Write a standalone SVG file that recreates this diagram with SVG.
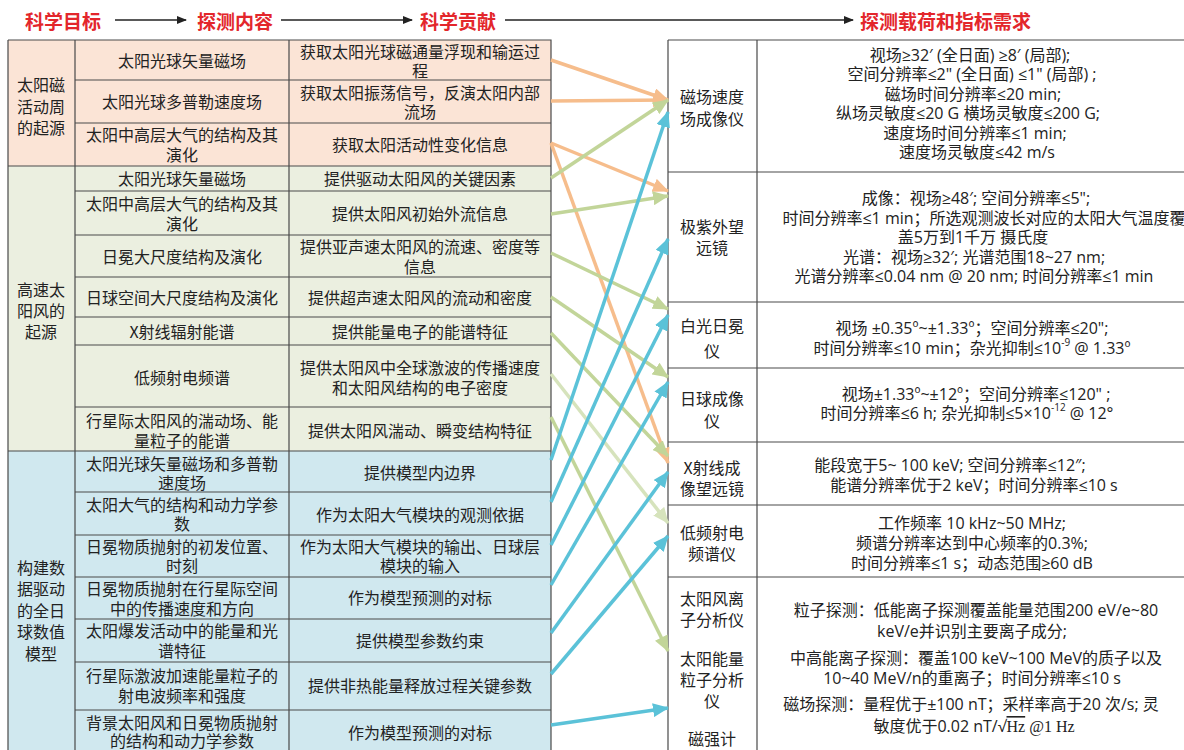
<svg xmlns="http://www.w3.org/2000/svg" width="1184" height="750" viewBox="0 0 1184 750">
<style>
.t{font-family:"Noto Sans CJK SC","Noto Sans",sans-serif;font-size:16px;fill:#222;text-anchor:middle;dominant-baseline:central}
.r{font-family:"Open Sans","Noto Sans CJK SC",sans-serif;font-size:16px;fill:#222;text-anchor:middle;dominant-baseline:central}
.h{font-family:"Noto Sans CJK SC",sans-serif;font-size:19px;font-weight:bold;fill:#E3262B;dominant-baseline:central}
.g{stroke:#4a4a4a;stroke-width:1.2;fill:none}
.sup{font-size:10px}
.co{stroke:#F6BD8C;stroke-width:3.5;fill:none}
.cg{stroke:#C2D599;stroke-width:3.5;fill:none}
.cg2{stroke:#D6E3BC;stroke-width:3.5;fill:none}
.cb{stroke:#5BC2D8;stroke-width:3.5;fill:none}
</style>
<defs>
<marker id="ah" markerWidth="10" markerHeight="8" refX="9" refY="4" orient="auto" markerUnits="userSpaceOnUse"><path d="M0,0 L10,4 L0,8 z" fill="#222"/></marker>
<marker id="ao" markerWidth="16" markerHeight="14" refX="15" refY="7" orient="auto" markerUnits="userSpaceOnUse"><path d="M0,0 L16,7 L0,14 z" fill="#F6BD8C"/></marker>
<marker id="ag" markerWidth="16" markerHeight="14" refX="15" refY="7" orient="auto" markerUnits="userSpaceOnUse"><path d="M0,0 L16,7 L0,14 z" fill="#C2D599"/></marker>
<marker id="ag2" markerWidth="16" markerHeight="14" refX="15" refY="7" orient="auto" markerUnits="userSpaceOnUse"><path d="M0,0 L16,7 L0,14 z" fill="#D6E3BC"/></marker>
<marker id="ab" markerWidth="16" markerHeight="14" refX="15" refY="7" orient="auto" markerUnits="userSpaceOnUse"><path d="M0,0 L16,7 L0,14 z" fill="#5BC2D8"/></marker>
</defs>
<rect width="1184" height="750" fill="#fff"/>

<g id="header">
<text class="h" x="25" y="20">科学目标</text>
<line x1="115" y1="20" x2="186" y2="20" stroke="#222" stroke-width="1.3" marker-end="url(#ah)"/>
<text class="h" x="197" y="20">探测内容</text>
<line x1="281" y1="20" x2="412" y2="20" stroke="#222" stroke-width="1.3" marker-end="url(#ah)"/>
<text class="h" x="420" y="20">科学贡献</text>
<line x1="505" y1="20" x2="853" y2="20" stroke="#222" stroke-width="1.3" marker-end="url(#ah)"/>
<text class="h" x="860" y="20">探测载荷和指标需求</text>
</g>

<g id="left-table">
<rect x="8" y="40" width="543" height="126" fill="#FBE4D6"/>
<rect x="8" y="166" width="543" height="285" fill="#EBEFE0"/>
<rect x="8" y="451" width="543" height="305" fill="#D0E8EF"/>
<path class="g" d="M8,40 H551 V756 M8,40 V756 M75,40 V756 M289,40 V756"/>
<path class="g" d="M8,166 H551 M8,451 H551"/>
<path class="g" d="M75,80 H551 M75,123 H551 M75,191 H551 M75,235 H551 M75,277 H551 M75,317 H551 M75,345 H551 M75,407 H551 M75,492 H551 M75,535 H551 M75,577 H551 M75,619 H551 M75,662 H551 M75,710 H551"/>
</g>

<g id="goal-1">
<text class="t" x="41" y="84">太阳磁</text><text class="t" x="41" y="106">活动周</text><text class="t" x="41" y="127">的起源</text>
<text class="t" x="182" y="60">太阳光球矢量磁场</text>
<text class="t" x="420" y="51">获取太阳光球磁通量浮现和输运过</text><text class="t" x="420" y="70">程</text>
<text class="t" x="182" y="101">太阳光球多普勒速度场</text>
<text class="t" x="420" y="92">获取太阳振荡信号，反演太阳内部</text><text class="t" x="420" y="111">流场</text>
<text class="t" x="182" y="134">太阳中高层大气的结构及其</text><text class="t" x="182" y="154">演化</text>
<text class="t" x="420" y="144">获取太阳活动性变化信息</text>
</g>

<g id="goal-2">
<text class="t" x="41" y="289">高速太</text><text class="t" x="41" y="310">阳风的</text><text class="t" x="41" y="331">起源</text>
<text class="t" x="182" y="178">太阳光球矢量磁场</text><text class="t" x="420" y="178">提供驱动太阳风的关键因素</text>
<text class="t" x="182" y="203">太阳中高层大气的结构及其</text><text class="t" x="182" y="223">演化</text>
<text class="t" x="420" y="213">提供太阳风初始外流信息</text>
<text class="t" x="182" y="256">日冕大尺度结构及演化</text>
<text class="t" x="420" y="246">提供亚声速太阳风的流速、密度等</text><text class="t" x="420" y="266">信息</text>
<text class="t" x="182" y="297">日球空间大尺度结构及演化</text><text class="t" x="420" y="297">提供超声速太阳风的流动和密度</text>
<text class="t" x="182" y="331">X射线辐射能谱</text><text class="t" x="420" y="331">提供能量电子的能谱特征</text>
<text class="t" x="182" y="377">低频射电频谱</text>
<text class="t" x="420" y="367">提供太阳风中全球激波的传播速度</text><text class="t" x="420" y="387">和太阳风结构的电子密度</text>
<text class="t" x="182" y="420">行星际太阳风的湍动场、能</text><text class="t" x="182" y="440">量粒子的能谱</text>
<text class="t" x="420" y="430">提供太阳风湍动、瞬变结构特征</text>
</g>

<g id="goal-3">
<text class="t" x="41" y="567">构建数</text><text class="t" x="41" y="588">据驱动</text><text class="t" x="41" y="610">的全日</text><text class="t" x="41" y="631">球数值</text><text class="t" x="41" y="653">模型</text>
<text class="t" x="182" y="463">太阳光球矢量磁场和多普勒</text><text class="t" x="182" y="482">速度场</text>
<text class="t" x="420" y="472">提供模型内边界</text>
<text class="t" x="182" y="504">太阳大气的结构和动力学参</text><text class="t" x="182" y="523">数</text>
<text class="t" x="420" y="514">作为太阳大气模块的观测依据</text>
<text class="t" x="182" y="546">日冕物质抛射的初发位置、</text><text class="t" x="182" y="565">时刻</text>
<text class="t" x="420" y="546">作为太阳大气模块的输出、日球层</text><text class="t" x="420" y="565">模块的输入</text>
<text class="t" x="182" y="588">日冕物质抛射在行星际空间</text><text class="t" x="182" y="608">中的传播速度和方向</text>
<text class="t" x="420" y="597">作为模型预测的对标</text>
<text class="t" x="182" y="630">太阳爆发活动中的能量和光</text><text class="t" x="182" y="650">谱特征</text>
<text class="t" x="420" y="640">提供模型参数约束</text>
<text class="t" x="182" y="675">行星际激波加速能量粒子的</text><text class="t" x="182" y="695">射电波频率和强度</text>
<text class="t" x="420" y="685">提供非热能量释放过程关键参数</text>
<text class="t" x="182" y="722">背景太阳风和日冕物质抛射</text><text class="t" x="182" y="740">的结构和动力学参数</text>
<text class="t" x="420" y="732">作为模型预测的对标</text>
</g>

<g id="right-table">
<rect x="668" y="40" width="530" height="716" fill="#fff"/>
<path class="g" d="M668,40 H1198 M668,40 V756 M757,40 V756"/>
<path class="g" d="M668,172 H1198 M668,302 H1198 M668,368 H1198 M668,442 H1198 M668,505 H1198 M668,577 H1198"/>
</g>

<g id="p-mag-vel">
<text class="t" x="712" y="96">磁场速度</text><text class="t" x="712" y="118">场成像仪</text>
<text class="r" x="970" y="55">视场≥32′ (全日面) ≥8′ (局部);</text>
<text class="r" x="972" y="74">空间分辨率≤2" (全日面) ≤1" (局部) ;</text>
<text class="r" x="973" y="94">磁场时间分辨率≤20 min;</text>
<text class="r" x="968" y="113">纵场灵敏度≤20 G  横场灵敏度≤200 G;</text>
<text class="r" x="975" y="133">速度场时间分辨率≤1 min;</text>
<text class="r" x="977" y="152">速度场灵敏度≤42 m/s</text>
</g>

<g id="p-euv">
<text class="t" x="712" y="226">极紫外望</text><text class="t" x="712" y="247">远镜</text>
<text class="r" x="976" y="198">成像：视场≥48′; 空间分辨率≤5";</text>
<text class="r" x="984" y="218">时间分辨率≤1 min；所选观测波长对应的太阳大气温度覆</text>
<text class="r" x="973" y="237">盖5万到1千万 摄氏度</text>
<text class="r" x="974" y="257">光谱：视场≥32′; 光谱范围18~27 nm;</text>
<text class="r" x="974" y="276">光谱分辨率≤0.04 nm @ 20 nm; 时间分辨率≤1 min</text>
</g>

<g id="p-corona">
<text class="t" x="712" y="325">白光日冕</text><text class="t" x="712" y="350">仪</text>
<text class="r" x="972" y="328">视场 ±0.35º~±1.33º；空间分辨率≤20";</text>
<text class="r" x="972" y="348">时间分辨率≤10 min；杂光抑制≤10<tspan class="sup" dy="-6">-9</tspan><tspan dy="6"> @ 1.33º</tspan></text>
</g>

<g id="p-helio">
<text class="t" x="712" y="398">日球成像</text><text class="t" x="712" y="420">仪</text>
<text class="r" x="976" y="394">视场±1.33º~±12º；空间分辨率≤120" ;</text>
<text class="r" x="967" y="413">时间分辨率≤6 h; 杂光抑制≤5×10<tspan class="sup" dy="-6">-12</tspan><tspan dy="6"> @ 12°</tspan></text>
</g>

<g id="p-xray">
<text class="t" x="712" y="467">X射线成</text><text class="t" x="712" y="488">像望远镜</text>
<text class="r" x="950" y="465">能段宽于5~ 100 keV; 空间分辨率≤12″;</text>
<text class="r" x="974" y="485">能谱分辨率优于2 keV；时间分辨率≤10 s</text>
</g>

<g id="p-radio">
<text class="t" x="712" y="532">低频射电</text><text class="t" x="712" y="553">频谱仪</text>
<text class="r" x="972" y="523">工作频率 10 kHz~50 MHz;</text>
<text class="r" x="972" y="543">频谱分辨率达到中心频率的0.3%;</text>
<text class="r" x="972" y="563">时间分辨率≤1 s；动态范围≥60 dB</text>
</g>

<g id="p-insitu">
<text class="t" x="712" y="598">太阳风离</text><text class="t" x="712" y="619">子分析仪</text>
<text class="t" x="712" y="658">太阳能量</text><text class="t" x="712" y="679">粒子分析</text><text class="t" x="712" y="700">仪</text>
<text class="t" x="712" y="738">磁强计</text>
<text class="r" x="976" y="610">粒子探测：低能离子探测覆盖能量范围200 eV/e~80</text>
<text class="r" x="972" y="631">keV/e并识别主要离子成分;</text>
<text class="r" x="976" y="658">中高能离子探测：覆盖100 keV~100 MeV的质子以及</text>
<text class="r" x="972" y="678">10~40 MeV/n的重离子；时间分辨率≤10 s</text>
<text class="r" x="971" y="704">磁场探测：量程优于±100 nT；采样率高于20 次/s; 灵</text>
<text class="r" x="974" y="726">敏度优于0.02 nT/√<tspan style="font-family:'Liberation Serif',serif;text-decoration:overline">Hz</tspan><tspan style="font-family:'Liberation Serif',serif"> @1 Hz</tspan></text>
</g>

<g id="connectors">
<line class="co" x1="551" y1="60" x2="668" y2="100" marker-end="url(#ao)"/>
<line class="co" x1="551" y1="101" x2="668" y2="100" marker-end="url(#ao)"/>
<line class="co" x1="551" y1="143" x2="668" y2="191" marker-end="url(#ao)"/>
<line class="co" x1="551" y1="143" x2="668" y2="463" marker-end="url(#ao)"/>
<line class="cg" x1="551" y1="178" x2="668" y2="100" marker-end="url(#ag)"/>
<line class="cg" x1="551" y1="214" x2="668" y2="196" marker-end="url(#ag)"/>
<line class="cg" x1="551" y1="253" x2="668" y2="309" marker-end="url(#ag)"/>
<line class="cg" x1="551" y1="297" x2="668" y2="377" marker-end="url(#ag)"/>
<line class="cg" x1="551" y1="333" x2="668" y2="456" marker-end="url(#ag)"/>
<line class="cg2" x1="551" y1="374" x2="668" y2="523" marker-end="url(#ag2)"/>
<line class="cg" x1="551" y1="417" x2="668" y2="651" marker-end="url(#ag)"/>
<line class="cb" x1="551" y1="460" x2="668" y2="112" marker-end="url(#ab)"/>
<line class="cb" x1="551" y1="502" x2="668" y2="239" marker-end="url(#ab)"/>
<line class="cb" x1="551" y1="545" x2="668" y2="315" marker-end="url(#ab)"/>
<line class="cb" x1="551" y1="585" x2="668" y2="382" marker-end="url(#ab)"/>
<line class="cb" x1="551" y1="633" x2="668" y2="472" marker-end="url(#ab)"/>
<line class="cb" x1="551" y1="674" x2="668" y2="536" marker-end="url(#ab)"/>
<line class="cb" x1="551" y1="725" x2="668" y2="708" marker-end="url(#ab)"/>
</g>
</svg>
